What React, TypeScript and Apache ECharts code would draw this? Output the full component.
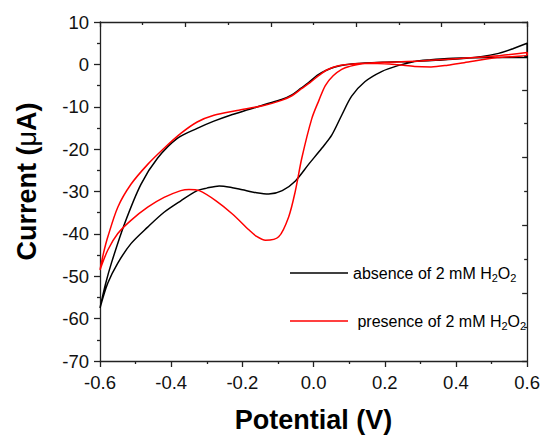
import React, { useEffect, useRef } from "react";
import * as echarts from "echarts";

// Absence of H2O2 (black loop): potential (V) and current (µA), scanned as one closed loop
const absencePotential = [
  -0.6, -0.585, -0.568, -0.531, -0.485, -0.438, -0.382, -0.327, -0.28, -0.234, -0.18, -0.135, -0.09,
  -0.061, -0.035, -0.014, 0.01, 0.033, 0.06, 0.09, 0.144, 0.2, 0.28, 0.35, 0.41, 0.47, 0.52, 0.56, 0.6,
  0.6, 0.5, 0.42, 0.377, 0.33, 0.284, 0.237, 0.191, 0.144, 0.107, 0.079, 0.051, 0.023, -0.014, -0.051,
  -0.088, -0.126, -0.16, -0.2, -0.228, -0.265, -0.3, -0.327, -0.373, -0.42, -0.466, -0.513, -0.55,
  -0.578, -0.6,
];
const absenceCurrent = [
  -57.5, -52.0, -46.9, -37.6, -28.3, -22.1, -17.4, -15.1, -13.4, -12.0, -10.6, -9.4, -8.3,
  -7.2, -5.6, -4.3, -2.6, -1.5, -0.6, -0.1, 0.3, 0.5, 0.7, 1.0, 1.3, 1.8, 2.6, 3.7, 5.0,
  1.6, 1.6, 1.5, 1.4, 1.1, 0.7, -0.3, -1.7, -4.1, -7.5, -12.0, -16.7, -19.8, -23.6, -27.5,
  -29.8, -30.6, -30.3, -29.6, -29.1, -28.7, -29.2, -29.8, -32.2, -34.9, -38.4, -42.3, -46.9,
  -51.6, -57.5,
];

// Presence of 2 mM H2O2 (red loop)
const presencePotential = [
  -0.6, -0.59, -0.578, -0.55, -0.513, -0.466, -0.42, -0.373, -0.327, -0.28, -0.215, -0.14, -0.09,
  -0.061, -0.035, -0.01, 0.015, 0.04, 0.07, 0.11, 0.2, 0.3, 0.4, 0.5, 0.6,
  0.6, 0.516, 0.423, 0.377, 0.33, 0.284, 0.237, 0.18, 0.144, 0.1, 0.079, 0.055, 0.033, 0.015, -0.005,
  -0.033, -0.051, -0.07, -0.098, -0.135, -0.16, -0.181, -0.228, -0.274, -0.321, -0.35, -0.373, -0.42,
  -0.466, -0.513, -0.55, -0.578, -0.6,
];
const presenceCurrent = [
  -48.5, -44.5, -40.7, -33.7, -28.3, -23.6, -19.8, -16.3, -13.6, -12.0, -10.9, -9.7, -8.5,
  -7.4, -5.8, -4.3, -2.6, -1.2, -0.3, 0.1, 0.5, 0.8, 1.3, 1.9, 2.8,
  2.2, 1.6, 0.4, -0.2, -0.6, -0.5, -0.1, 0.2, 0.2, -0.5, -1.2, -2.7, -5.0, -8.5, -12.8,
  -22.1, -29.8, -36.0, -40.7, -41.5, -40.6, -39.1, -35.3, -32.2, -29.8, -29.5, -29.8, -31.4,
  -33.7, -36.8, -39.9, -43.8, -48.5,
];

const seriesNames = ["absence of 2 mM H2O2", "presence of 2 mM H2O2"];
const seriesColors = ["#000000", "#ff0000"];
const xTitle = "Potential (V)";

const FONT = "'Liberation Sans', Arial, sans-serif";

function pairs(xs: number[], ys: number[]) {
  return xs.map((x, i) => [x, ys[i]]);
}

function richName(name: string) {
  // "absence of 2 mM H2O2" -> rich text with subscripts
  const base = name.replace(/H2O2$/, "");
  return `{n|${base}H}{s|2}{n|O}{s|2}`;
}

export default function App() {
  const ref = useRef<HTMLDivElement>(null);

  useEffect(() => {
    if (!ref.current) return;
    const chart = echarts.init(ref.current, undefined, { renderer: "svg" });
    const legendText = {
      fontSize: 16,
      fontFamily: FONT,
      color: "#000",
      rich: {
        n: { fontSize: 16, fontFamily: FONT, color: "#000", lineHeight: 22 },
        s: { fontSize: 11, fontFamily: FONT, color: "#000", lineHeight: 12, verticalAlign: "bottom" },
      },
    };
    const legendBase = {
      left: 290,
      orient: "vertical",
      padding: 0,
      icon: "rect",
      itemWidth: 58,
      itemHeight: 1.6,
      symbolKeepAspect: false,
      selectedMode: false,
      textStyle: legendText,
    };
    const axisLineStyle = { color: "#222", width: 1.3 };
    chart.setOption({
      animation: false,
      backgroundColor: "#fff",
      grid: { left: 100, right: 13, top: 22, bottom: 72, containLabel: false },
      legend: [
        { ...legendBase, data: [seriesNames[0]], top: 265, formatter: richName },
        { ...legendBase, data: [seriesNames[1]], top: 313, formatter: (n: string) => " " + richName(n) },
      ],
      xAxis: [
        {
          type: "value",
          position: "bottom",
          min: -0.6,
          max: 0.6,
          interval: 0.2,
          name: xTitle,
          nameLocation: "middle",
          nameGap: 45,
          nameTextStyle: { fontSize: 27, fontWeight: "bold", fontFamily: FONT, color: "#000" },
          axisLine: { show: true, onZero: false, lineStyle: axisLineStyle },
          axisTick: { show: true, inside: false, length: 6, lineStyle: axisLineStyle },
          minorTick: { show: true, splitNumber: 2, length: 3, lineStyle: axisLineStyle },
          splitLine: { show: false },
          axisLabel: {
            margin: 12,
            fontSize: 18.5,
            fontFamily: FONT,
            color: "#111",
            formatter: (v: number) => (Math.abs(v) < 1e-9 ? "0.0" : v.toFixed(1)),
          },
        },
        {
          type: "value",
          position: "top",
          min: 0,
          max: 5,
          interval: 1,
          axisLine: { show: true, onZero: false, lineStyle: axisLineStyle },
          axisTick: { show: true, inside: true, length: 5, lineStyle: axisLineStyle },
          minorTick: { show: true, splitNumber: 2, length: 3, lineStyle: axisLineStyle },
          splitLine: { show: false },
          axisLabel: { show: false },
        },
      ],
      yAxis: [
        {
          type: "value",
          position: "left",
          min: -70,
          max: 10,
          interval: 10,
          name: "Current ({m|μ}A)",
          nameLocation: "middle",
          nameGap: 60,
          nameTextStyle: {
            fontSize: 27,
            fontWeight: "bold",
            fontFamily: FONT,
            color: "#000",
            padding: [0, 0, 0, 20],
            rich: {
              m: { fontSize: 27, fontWeight: "normal", fontFamily: FONT, color: "#000" },
            },
          },
          axisLine: { show: true, onZero: false, lineStyle: axisLineStyle },
          axisTick: { show: true, inside: false, length: 6, lineStyle: axisLineStyle },
          minorTick: { show: true, splitNumber: 2, length: 3, lineStyle: axisLineStyle },
          splitLine: { show: false },
          axisLabel: { margin: 11, fontSize: 18.5, fontFamily: FONT, color: "#111" },
        },
        {
          type: "value",
          position: "right",
          min: 0,
          max: 5,
          interval: 1,
          axisLine: { show: true, onZero: false, lineStyle: axisLineStyle },
          axisTick: { show: true, inside: true, length: 5, lineStyle: axisLineStyle },
          minorTick: { show: true, splitNumber: 2, length: 3, lineStyle: axisLineStyle },
          splitLine: { show: false },
          axisLabel: { show: false },
        },
      ],
      series: [
        {
          name: seriesNames[0],
          type: "line",
          xAxisIndex: 0,
          yAxisIndex: 0,
          data: pairs(absencePotential, absenceCurrent),
          symbol: "none",
          smooth: 0.3,
          lineStyle: { color: seriesColors[0], width: 1.5 },
          itemStyle: { color: seriesColors[0] },
        },
        {
          name: seriesNames[1],
          type: "line",
          xAxisIndex: 0,
          yAxisIndex: 0,
          data: pairs(presencePotential, presenceCurrent),
          symbol: "none",
          smooth: 0.3,
          lineStyle: { color: seriesColors[1], width: 1.5 },
          itemStyle: { color: seriesColors[1] },
        },
      ],
    });
    return () => chart.dispose();
  }, []);

  return <div ref={ref} style={{ width: 543, height: 438, position: "absolute", left: 0, top: 0 }} />;
}
